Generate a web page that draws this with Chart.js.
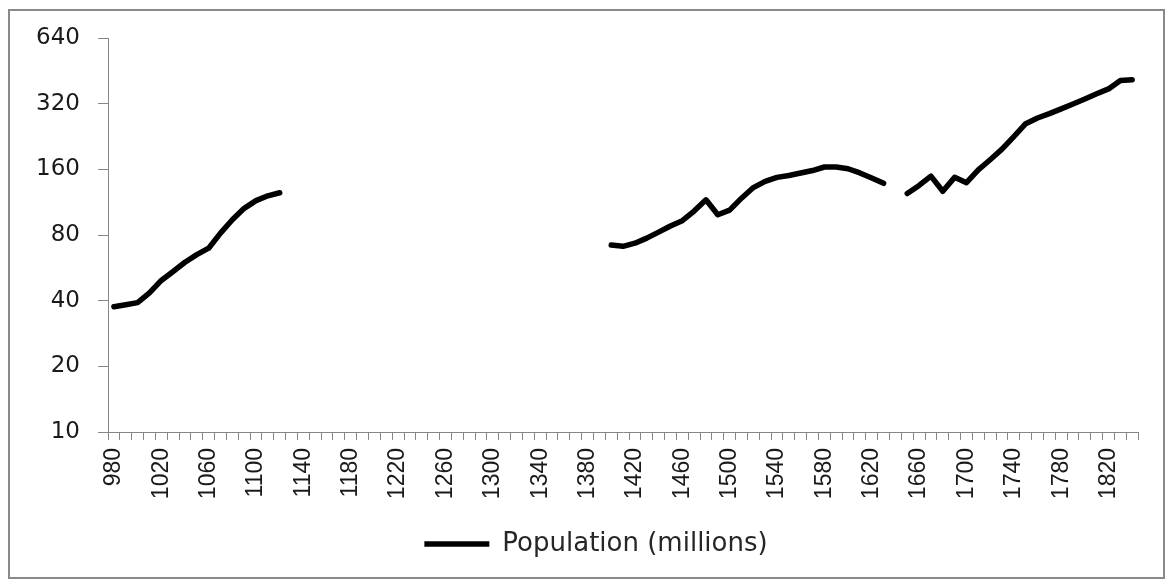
<!DOCTYPE html>
<html><head><meta charset="utf-8">
<script src="https://cdn.jsdelivr.net/npm/chart.js@4.4.1/dist/chart.umd.min.js"></script>
<style>html,body{margin:0;padding:0;background:#fff}#wrap{width:1168px;height:581px;position:relative}</style>
</head><body><div id="wrap"><canvas id="c" width="1168" height="581"></canvas></div>
<script>
const years = [980,990,1000,1010,1020,1030,1040,1050,1060,1070,1080,1090,1100,1110,1120,1130,1140,1150,1160,1170,1180,1190,1200,1210,1220,1230,1240,1250,1260,1270,1280,1290,1300,1310,1320,1330,1340,1350,1360,1370,1380,1390,1400,1410,1420,1430,1440,1450,1460,1470,1480,1490,1500,1510,1520,1530,1540,1550,1560,1570,1580,1590,1600,1610,1620,1630,1640,1650,1660,1670,1680,1690,1700,1710,1720,1730,1740,1750,1760,1770,1780,1790,1800,1810,1820,1830,1840];
const population = [37.5,38.3,39.2,43.4,49.5,54.4,60,65,69.6,81.6,94,106,115,121,125,
  null,null,null,null,null,null,null,null,null,null,null,null,null,null,null,null,null,null,null,null,null,null,null,null,null,null,null,
  72,71,73.4,77.4,82.5,88,93,103,116,99,104,118,132,141,147,150,154,158,164,164,161,154,146,138,
  null,
  124,135,149,127,147,139,159,177,198,226,259,275,288,303,319,336,355,374,409,412];
const yTicks = [10,20,40,80,160,320,640];
const seriesName = 'Population (millions)';

const frame = {
  id: 'frame',
  beforeDraw(chart) {
    const ctx = chart.ctx;
    ctx.save();
    ctx.strokeStyle = '#8a8a8a';
    ctx.lineWidth = 2;
    ctx.strokeRect(9, 10, 1155, 568);
    ctx.restore();
  },
  afterLayout(chart) {
    if (chart.legend) { chart.legend.left += 26; chart.legend.right += 26; }
  }
};

new Chart(document.getElementById('c'), {
  type: 'line',
  data: {
    labels: years,
    datasets: [{
      label: seriesName,
      data: population,
      borderColor: '#000',
      backgroundColor: '#000',
      borderWidth: 5.5,
      pointRadius: 0,
      tension: 0,
      spanGaps: false,
      fill: false,
      borderCapStyle: 'round',
      borderJoinStyle: 'round'
    }]
  },
  options: {
    responsive: false,
    animation: false,
    devicePixelRatio: 1,
    layout: {padding: {left: 0, right: 28, top: 38, bottom: 14}},
    plugins: {
      tooltip: {enabled: false},
      legend: {
        position: 'bottom',
        labels: {
          usePointStyle: true,
          pointStyle: 'line',
          pointStyleWidth: 65,
          padding: 10,
          color: '#262626',
          font: {family: 'DejaVu Sans', size: 26}
        }
      }
    },
    scales: {
      x: {
        type: 'category',
        offset: true,
        grid: {offset: true, drawOnChartArea: false, drawTicks: true, tickLength: 8, color: '#868686'},
        border: {color: '#868686'},
        ticks: {
          autoSkip: false, minRotation: 90, maxRotation: 90, padding: 8,
          color: '#1a1a1a', font: {family: 'Liberation Sans', size: 23},
          callback: (v, i) => (i % 4 === 0 ? String(years[i]) : '')
        },
        afterFit: s => { s.height = 89; }
      },
      y: {
        type: 'logarithmic',
        min: 10, max: 640,
        afterBuildTicks: s => { s.ticks = yTicks.map(v => ({value: v})); },
        grid: {drawOnChartArea: false, tickLength: 10, color: '#868686'},
        border: {color: '#868686'},
        ticks: {padding: 18, color: '#1a1a1a', font: {family: 'DejaVu Sans', size: 23}, callback: v => String(v)},
        afterFit: s => { s.width = 108; }
      }
    }
  },
  plugins: [frame]
});
</script></body></html>
